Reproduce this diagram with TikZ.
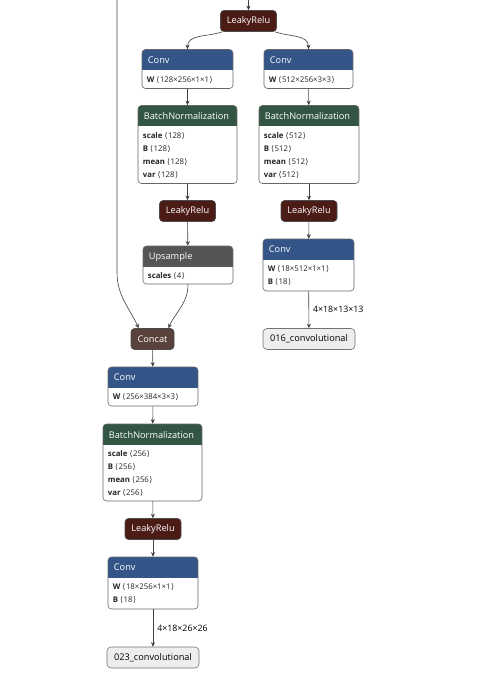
\documentclass[tikz,border=0pt]{standalone}
\usepackage{fontspec}
\setmainfont{Open Sans}
\newfontfamily\symfont{DejaVu Sans}
\usetikzlibrary{arrows.meta, positioning}
\definecolor{layercol}{RGB}{51,85,136}
\definecolor{actcol}{RGB}{75,27,22}
\definecolor{normcol}{RGB}{51,85,68}
\definecolor{tensorcol}{RGB}{89,66,59}
\definecolor{datacol}{RGB}{85,85,85}
\definecolor{iocol}{RGB}{238,238,238}
\newcommand{\attrrow}[2]{\textbf{#1}\ {\symfont⟨\kern0.5pt}#2{\symfont\kern0.5pt⟩}}
\tikzset{
	opbox/.style = {draw=black!60, line width=0.6pt, rounded corners=3.5pt, fill=white, inner sep=0pt,
		path picture={\fill[#1, sharp corners] (path picture bounding box.north west) rectangle ([yshift=-21pt]path picture bounding box.north east);}},
	ttl/.style = {anchor=west, inner sep=0pt, text=white, font=\fontsize{9.2}{11}\selectfont},
	attr/.style = {anchor=north west, inner sep=0pt, align=left, text=black!85, font=\fontsize{7.8}{13}\selectfont},
	act/.style = {fill=actcol, draw=black!70, line width=0.6pt, rounded corners=3.5pt, text=white, font=\fontsize{9.2}{11}\selectfont, minimum width=56pt, minimum height=21pt, inner sep=0pt},
	io/.style = {fill=iocol, draw=black!55, line width=0.6pt, rounded corners=4pt, font=\fontsize{9.2}{11}\selectfont, minimum width=92pt, minimum height=21pt, inner sep=0pt},
	edge/.style = {draw=black!75, line width=0.6pt, -{Stealth[length=4.5pt, width=4pt]}},
	lbl/.style = {right, inner sep=0pt, xshift=4pt, font=\fontsize{8.8}{10}\selectfont}
}

\begin{document}
\begin{tikzpicture}[x=1pt, y=1pt]
		\useasboundingbox (0,0) rectangle (483,-695);
		%上方输入
		\coordinate (in) at (248.5,0);
		\coordinate (skip) at (117,0);
		\node (lrelu1) [act] at (248.5,-21) {LeakyRelu};

		%左分支
		\node (convA) [opbox=layercol, minimum width=91pt, minimum height=39pt] at (187.5,-69) {};
		\node (convA-t) [ttl] at ([xshift=6pt, yshift=-11pt]convA.north west) {Conv};
		\node (convA-b) [attr] at ([xshift=5pt, yshift=-27pt]convA.north west) {\attrrow{W}{128×256×1×1}};
		\node (bnA) [opbox=normcol, minimum width=99pt, minimum height=78pt] at (187.5,-144.5) {};
		\node (bnA-t) [ttl] at ([xshift=6pt, yshift=-11pt]bnA.north west) {BatchNormalization};
		\node (bnA-b) [attr] at ([xshift=5pt, yshift=-27pt]bnA.north west) {\attrrow{scale}{128}\\ \attrrow{B}{128}\\ \attrrow{mean}{128}\\ \attrrow{var}{128}};
		\node (lreluA) [act] at (187.5,-211) {LeakyRelu};
		\node (ups) [opbox=datacol, minimum width=90pt, minimum height=38pt] at (188,-265) {};
		\node (ups-t) [ttl] at ([xshift=6pt, yshift=-11pt]ups.north west) {Upsample};
		\node (ups-b) [attr] at ([xshift=5pt, yshift=-27pt]ups.north west) {\attrrow{scales}{4}};

		%右分支
		\node (convB) [opbox=layercol, minimum width=89pt, minimum height=39pt] at (308.5,-69) {};
		\node (convB-t) [ttl] at ([xshift=6pt, yshift=-11pt]convB.north west) {Conv};
		\node (convB-b) [attr] at ([xshift=5pt, yshift=-27pt]convB.north west) {\attrrow{W}{512×256×3×3}};
		\node (bnB) [opbox=normcol, minimum width=100pt, minimum height=78pt] at (309,-144.5) {};
		\node (bnB-t) [ttl] at ([xshift=6pt, yshift=-11pt]bnB.north west) {BatchNormalization};
		\node (bnB-b) [attr] at ([xshift=5pt, yshift=-27pt]bnB.north west) {\attrrow{scale}{512}\\ \attrrow{B}{512}\\ \attrrow{mean}{512}\\ \attrrow{var}{512}};
		\node (lreluB) [act] at (309,-211) {LeakyRelu};
		\node (convC) [opbox=layercol, minimum width=91pt, minimum height=52pt] at (308.5,-265) {};
		\node (convC-t) [ttl] at ([xshift=6pt, yshift=-11pt]convC.north west) {Conv};
		\node (convC-b) [attr] at ([xshift=5pt, yshift=-27pt]convC.north west) {\attrrow{W}{18×512×1×1}\\ \attrrow{B}{18}};
		\node (outB) [io] at (309,-339) {016\_convolutional};

		%合并之后
		\node (concat) [act, fill=tensorcol, minimum width=43pt] at (152.5,-339) {Concat};
		\node (convD) [opbox=layercol, minimum width=90pt, minimum height=39pt] at (153,-386.5) {};
		\node (convD-t) [ttl] at ([xshift=6pt, yshift=-11pt]convD.north west) {Conv};
		\node (convD-b) [attr] at ([xshift=5pt, yshift=-27pt]convD.north west) {\attrrow{W}{256×384×3×3}};
		\node (bnD) [opbox=normcol, minimum width=99pt, minimum height=77pt] at (152.5,-462.5) {};
		\node (bnD-t) [ttl] at ([xshift=6pt, yshift=-11pt]bnD.north west) {BatchNormalization};
		\node (bnD-b) [attr] at ([xshift=5pt, yshift=-27pt]bnD.north west) {\attrrow{scale}{256}\\ \attrrow{B}{256}\\ \attrrow{mean}{256}\\ \attrrow{var}{256}};
		\node (lreluD) [act] at (153,-529) {LeakyRelu};
		\node (convE) [opbox=layercol, minimum width=90pt, minimum height=52pt] at (153,-583) {};
		\node (convE-t) [ttl] at ([xshift=6pt, yshift=-11pt]convE.north west) {Conv};
		\node (convE-b) [attr] at ([xshift=5pt, yshift=-27pt]convE.north west) {\attrrow{W}{18×256×1×1}\\ \attrrow{B}{18}};
		\node (outE) [io] at (153,-657.5) {023\_convolutional};

		%连线
		\path [edge] (in) -- (lrelu1);
		\path [edge] ([xshift=2pt]lrelu1.south west) to[out=-160, in=90] (convA.north);
		\path [edge] ([xshift=-2pt]lrelu1.south east) to[out=-20, in=90] (convB.north);
		\path [edge] (convA) -- (bnA);
		\path [edge] (bnA) -- (lreluA);
		\path [edge] (lreluA) -- (ups);
		\path [edge] (convB) -- (bnB);
		\path [edge] (bnB) -- (lreluB);
		\path [edge] (lreluB) -- (convC);
		\path [edge] (convC) -- node[lbl] {4×18×13×13} (outB);
		\path [edge] (skip) -- ++(0,-272) to[out=-90, in=115] ([xshift=8pt]concat.north west);
		\path [edge] (ups.south) to[out=-90, in=65] ([xshift=-6pt]concat.north east);
		\path [edge] (concat) -- (convD);
		\path [edge] (convD) -- (bnD);
		\path [edge] (bnD) -- (lreluD);
		\path [edge] (lreluD) -- (convE);
		\path [edge] (convE) -- node[lbl] {4×18×26×26} (outE);
\end{tikzpicture}
\end{document}
